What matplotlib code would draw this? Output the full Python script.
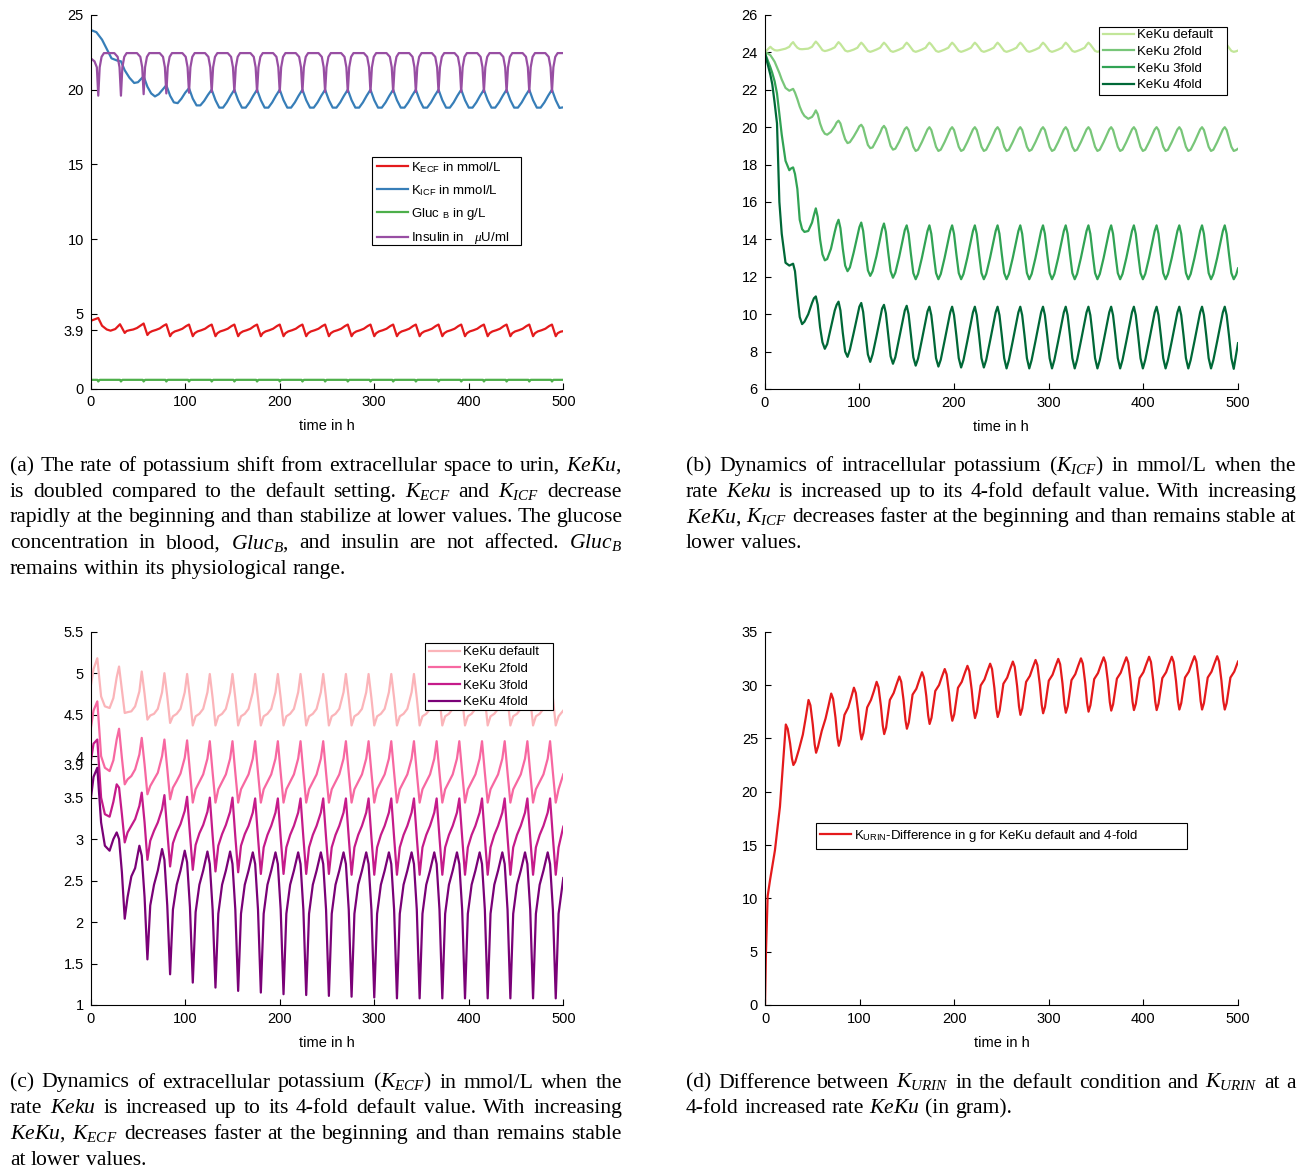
import matplotlib
matplotlib.use("Agg")
import matplotlib.pyplot as plt
from matplotlib.patches import Rectangle

plt.rcParams['font.family'] = 'Liberation Sans'
plt.rcParams['mathtext.fontset'] = 'custom'
plt.rcParams['mathtext.rm'] = 'Liberation Sans'
plt.rcParams['mathtext.it'] = 'Liberation Serif:italic'
plt.rcParams['mathtext.bf'] = 'Liberation Sans:bold'

# ---------------- (a) default KeKu doubled ----------------
t_ins = [0, 4, 6.5,
         8, 9.5, 11.5, 14, 25, 28.5, 30.5,
         32, 33.5, 35.5, 38, 49, 52.5, 54.5,
         56, 57.5, 59.5, 62, 73, 76.5, 78.5,
         80, 81.5, 83.5, 86, 97, 100.5, 102.5,
         104, 105.5, 107.5, 110, 121, 124.5, 126.5,
         128, 129.5, 131.5, 134, 145, 148.5, 150.5,
         152, 153.5, 155.5, 158, 169, 172.5, 174.5,
         176, 177.5, 179.5, 182, 193, 196.5, 198.5,
         200, 201.5, 203.5, 206, 217, 220.5, 222.5,
         224, 225.5, 227.5, 230, 241, 244.5, 246.5,
         248, 249.5, 251.5, 254, 265, 268.5, 270.5,
         272, 273.5, 275.5, 278, 289, 292.5, 294.5,
         296, 297.5, 299.5, 302, 313, 316.5, 318.5,
         320, 321.5, 323.5, 326, 337, 340.5, 342.5,
         344, 345.5, 347.5, 350, 361, 364.5, 366.5,
         368, 369.5, 371.5, 374, 385, 388.5, 390.5,
         392, 393.5, 395.5, 398, 409, 412.5, 414.5,
         416, 417.5, 419.5, 422, 433, 436.5, 438.5,
         440, 441.5, 443.5, 446, 457, 460.5, 462.5,
         464, 465.5, 467.5, 470, 481, 484.5, 486.5,
         488, 489.5, 491.5, 494, 500]
insulin = [22.1, 21.9, 21.5,
           19.6, 21.5, 22.2, 22.45, 22.45, 22.2, 21.5,     # 8
           19.6, 21.5, 22.2, 22.45, 22.45, 22.2, 21.5,     # 32
           19.7, 21.5, 22.2, 22.45, 22.45, 22.2, 21.5,     # 56
           19.75, 21.5, 22.2, 22.45, 22.45, 22.2, 21.5,    # 80
           19.8, 21.5, 22.2, 22.45, 22.45, 22.2, 21.5,     # 104
           19.85, 21.5, 22.2, 22.45, 22.45, 22.2, 21.5,    # 128
           19.85, 21.5, 22.2, 22.45, 22.45, 22.2, 21.5,    # 152
           19.85, 21.5, 22.2, 22.45, 22.45, 22.2, 21.5,    # 176
           19.85, 21.5, 22.2, 22.45, 22.45, 22.2, 21.5,    # 200
           19.85, 21.5, 22.2, 22.45, 22.45, 22.2, 21.5,    # 224
           19.85, 21.5, 22.2, 22.45, 22.45, 22.2, 21.5,    # 248
           19.85, 21.5, 22.2, 22.45, 22.45, 22.2, 21.5,    # 272
           19.85, 21.5, 22.2, 22.45, 22.45, 22.2, 21.5,    # 296
           19.85, 21.5, 22.2, 22.45, 22.45, 22.2, 21.5,    # 320
           19.85, 21.5, 22.2, 22.45, 22.45, 22.2, 21.5,    # 344
           19.85, 21.5, 22.2, 22.45, 22.45, 22.2, 21.5,    # 368
           19.85, 21.5, 22.2, 22.45, 22.45, 22.2, 21.5,    # 392
           19.85, 21.5, 22.2, 22.45, 22.45, 22.2, 21.5,    # 416
           19.85, 21.5, 22.2, 22.45, 22.45, 22.2, 21.5,    # 440
           19.85, 21.5, 22.2, 22.45, 22.45, 22.2, 21.5,    # 464
           19.85, 21.5, 22.2, 22.45, 22.45]                # 488

t_ecf = [0, 0.5, 3, 8, 12, 17, 21, 26, 31,
         36, 38, 41, 45, 49, 53, 56,
         60, 62, 65, 69, 73, 77, 80,
         84, 86, 89, 93, 97, 101, 104,
         108, 110, 113, 117, 121, 125, 128,
         132, 134, 137, 141, 145, 149, 152,
         156, 158, 161, 165, 169, 173, 176,
         180, 182, 185, 189, 193, 197, 200,
         204, 206, 209, 213, 217, 221, 224,
         228, 230, 233, 237, 241, 245, 248,
         252, 254, 257, 261, 265, 269, 272,
         276, 278, 281, 285, 289, 293, 296,
         300, 302, 305, 309, 313, 317, 320,
         324, 326, 329, 333, 337, 341, 344,
         348, 350, 353, 357, 361, 365, 368,
         372, 374, 377, 381, 385, 389, 392,
         396, 398, 401, 405, 409, 413, 416,
         420, 422, 425, 429, 433, 437, 440,
         444, 446, 449, 453, 457, 461, 464,
         468, 470, 473, 477, 481, 485, 488,
         492, 494, 497, 500]
k_ecf = [4.35, 4.55, 4.6, 4.72, 4.2, 3.95, 3.87, 3.98, 4.3,
         3.72, 3.85, 3.9, 3.95, 4.05, 4.22, 4.35,     # 36
         3.58, 3.74, 3.84, 3.92, 4.02, 4.2, 4.3,      # 60
         3.5, 3.7, 3.82, 3.9, 4.0, 4.18, 4.28,        # 84
         3.5, 3.7, 3.82, 3.9, 4.0, 4.18, 4.28,        # 108
         3.5, 3.7, 3.82, 3.9, 4.0, 4.18, 4.28,        # 132
         3.5, 3.7, 3.82, 3.9, 4.0, 4.18, 4.28,        # 156
         3.5, 3.7, 3.82, 3.9, 4.0, 4.18, 4.28,        # 180
         3.5, 3.7, 3.82, 3.9, 4.0, 4.18, 4.28,        # 204
         3.5, 3.7, 3.82, 3.9, 4.0, 4.18, 4.28,        # 228
         3.5, 3.7, 3.82, 3.9, 4.0, 4.18, 4.28,        # 252
         3.5, 3.7, 3.82, 3.9, 4.0, 4.18, 4.28,        # 276
         3.5, 3.7, 3.82, 3.9, 4.0, 4.18, 4.28,        # 300
         3.5, 3.7, 3.82, 3.9, 4.0, 4.18, 4.28,        # 324
         3.5, 3.7, 3.82, 3.9, 4.0, 4.18, 4.28,        # 348
         3.5, 3.7, 3.82, 3.9, 4.0, 4.18, 4.28,        # 372
         3.5, 3.7, 3.82, 3.9, 4.0, 4.18, 4.28,        # 396
         3.5, 3.7, 3.82, 3.9, 4.0, 4.18, 4.28,        # 420
         3.5, 3.7, 3.82, 3.9, 4.0, 4.18, 4.28,        # 444
         3.5, 3.7, 3.82, 3.9, 4.0, 4.18, 4.28,        # 468
         3.5, 3.7, 3.8, 3.84]                         # 492

t_icf = [0, 6, 12, 18, 22, 28, 32, 36, 41, 46, 50,
         56, 60, 64, 68, 72, 76,
         80, 84, 88, 92, 96, 100,
         104, 108, 112, 116, 120, 124,
         128, 132, 136, 140, 144, 148,
         152, 156, 160, 164, 168, 172,
         176, 180, 184, 188, 192, 196,
         200, 204, 208, 212, 216, 220,
         224, 228, 232, 236, 240, 244,
         248, 252, 256, 260, 264, 268,
         272, 276, 280, 284, 288, 292,
         296, 300, 304, 308, 312, 316,
         320, 324, 328, 332, 336, 340,
         344, 348, 352, 356, 360, 364,
         368, 372, 376, 380, 384, 388,
         392, 396, 400, 404, 408, 412,
         416, 420, 424, 428, 432, 436,
         440, 444, 448, 452, 456, 460,
         464, 468, 472, 476, 480, 484,
         488, 492, 496, 500]
k_icf = [24.0, 23.85, 23.35, 22.6, 22.1, 21.95, 21.9, 21.3, 20.8, 20.45, 20.5,
         20.9, 20.2, 19.75, 19.55, 19.7, 20.0,        # 56
         20.3, 19.6, 19.15, 19.1, 19.4, 19.8,         # 80
         20.1, 19.4, 18.95, 18.95, 19.25, 19.65,      # 104
         20.0, 19.3, 18.8, 18.8, 19.15, 19.6,         # 128
         20.0, 19.3, 18.8, 18.8, 19.15, 19.6,         # 152
         20.0, 19.3, 18.8, 18.8, 19.15, 19.6,         # 176
         20.0, 19.3, 18.8, 18.8, 19.15, 19.6,         # 200
         20.0, 19.3, 18.8, 18.8, 19.15, 19.6,         # 224
         20.0, 19.3, 18.8, 18.8, 19.15, 19.6,         # 248
         20.0, 19.3, 18.8, 18.8, 19.15, 19.6,         # 272
         20.0, 19.3, 18.8, 18.8, 19.15, 19.6,         # 296
         20.0, 19.3, 18.8, 18.8, 19.15, 19.6,         # 320
         20.0, 19.3, 18.8, 18.8, 19.15, 19.6,         # 344
         20.0, 19.3, 18.8, 18.8, 19.15, 19.6,         # 368
         20.0, 19.3, 18.8, 18.8, 19.15, 19.6,         # 392
         20.0, 19.3, 18.8, 18.8, 19.15, 19.6,         # 416
         20.0, 19.3, 18.8, 18.8, 19.15, 19.6,         # 440
         20.0, 19.3, 18.8, 18.8, 19.15, 19.6,         # 464
         20.0, 19.3, 18.78, 18.82]                    # 488

t_glc = [0,
         7, 8, 9.5, 31, 32, 33.5, 55, 56, 57.5,
         79, 80, 81.5, 103, 104, 105.5, 127, 128, 129.5,
         151, 152, 153.5, 175, 176, 177.5, 199, 200, 201.5,
         223, 224, 225.5, 247, 248, 249.5, 271, 272, 273.5,
         295, 296, 297.5, 319, 320, 321.5, 343, 344, 345.5,
         367, 368, 369.5, 391, 392, 393.5, 415, 416, 417.5,
         439, 440, 441.5, 463, 464, 465.5, 487, 488, 489.5,
         500]
gluc = [0.58,
        0.58, 0.47, 0.58, 0.58, 0.47, 0.58, 0.58, 0.47, 0.58,
        0.58, 0.47, 0.58, 0.58, 0.47, 0.58, 0.58, 0.47, 0.58,
        0.58, 0.47, 0.58, 0.58, 0.47, 0.58, 0.58, 0.47, 0.58,
        0.58, 0.47, 0.58, 0.58, 0.47, 0.58, 0.58, 0.47, 0.58,
        0.58, 0.47, 0.58, 0.58, 0.47, 0.58, 0.58, 0.47, 0.58,
        0.58, 0.47, 0.58, 0.58, 0.47, 0.58, 0.58, 0.47, 0.58,
        0.58, 0.47, 0.58, 0.58, 0.47, 0.58, 0.58, 0.47, 0.58,
        0.58]

# ---------------- (b) K_ICF for increasing KeKu ----------------
t_b = [0, 3,
       6, 8, 10.5, 13, 15.5, 18, 22, 26, 28,
       30, 32, 34.5, 37, 39.5, 42, 46, 50, 52,
       54, 56, 58.5, 61, 63.5, 66, 70, 74, 76,
       78, 80, 82.5, 85, 87.5, 90, 94, 98, 100,
       102, 104, 106.5, 109, 111.5, 114, 118, 122, 124,
       126, 128, 130.5, 133, 135.5, 138, 142, 146, 148,
       150, 152, 154.5, 157, 159.5, 162, 166, 170, 172,
       174, 176, 178.5, 181, 183.5, 186, 190, 194, 196,
       198, 200, 202.5, 205, 207.5, 210, 214, 218, 220,
       222, 224, 226.5, 229, 231.5, 234, 238, 242, 244,
       246, 248, 250.5, 253, 255.5, 258, 262, 266, 268,
       270, 272, 274.5, 277, 279.5, 282, 286, 290, 292,
       294, 296, 298.5, 301, 303.5, 306, 310, 314, 316,
       318, 320, 322.5, 325, 327.5, 330, 334, 338, 340,
       342, 344, 346.5, 349, 351.5, 354, 358, 362, 364,
       366, 368, 370.5, 373, 375.5, 378, 382, 386, 388,
       390, 392, 394.5, 397, 399.5, 402, 406, 410, 412,
       414, 416, 418.5, 421, 423.5, 426, 430, 434, 436,
       438, 440, 442.5, 445, 447.5, 450, 454, 458, 460,
       462, 464, 466.5, 469, 471.5, 474, 478, 482, 484,
       486, 488, 490.5, 493, 495.5, 498, 500]
icf_default = [24.0, 24.15,
               24.3, 24.2, 24.12, 24.1, 24.12, 24.15, 24.2, 24.3, 24.45,        # 6
               24.55, 24.4, 24.25, 24.18, 24.17, 24.18, 24.2, 24.3, 24.45,      # 30
               24.58, 24.47, 24.3, 24.12, 24.07, 24.1, 24.17, 24.27, 24.42,     # 54
               24.55, 24.45, 24.27, 24.1, 24.05, 24.08, 24.15, 24.25, 24.4,     # 78
               24.52, 24.42, 24.25, 24.08, 24.03, 24.07, 24.15, 24.25, 24.4,    # 102
               24.52, 24.42, 24.25, 24.08, 24.03, 24.07, 24.15, 24.25, 24.4,    # 126
               24.52, 24.42, 24.25, 24.08, 24.03, 24.07, 24.15, 24.25, 24.4,    # 150
               24.52, 24.42, 24.25, 24.08, 24.03, 24.07, 24.15, 24.25, 24.4,    # 174
               24.52, 24.42, 24.25, 24.08, 24.03, 24.07, 24.15, 24.25, 24.4,    # 198
               24.52, 24.42, 24.25, 24.08, 24.03, 24.07, 24.15, 24.25, 24.4,    # 222
               24.52, 24.42, 24.25, 24.08, 24.03, 24.07, 24.15, 24.25, 24.4,    # 246
               24.52, 24.42, 24.25, 24.08, 24.03, 24.07, 24.15, 24.25, 24.4,    # 270
               24.52, 24.42, 24.25, 24.08, 24.03, 24.07, 24.15, 24.25, 24.4,    # 294
               24.52, 24.42, 24.25, 24.08, 24.03, 24.07, 24.15, 24.25, 24.4,    # 318
               24.52, 24.42, 24.25, 24.08, 24.03, 24.07, 24.15, 24.25, 24.4,    # 342
               24.52, 24.42, 24.25, 24.08, 24.03, 24.07, 24.15, 24.25, 24.4,    # 366
               24.52, 24.42, 24.25, 24.08, 24.03, 24.07, 24.15, 24.25, 24.4,    # 390
               24.52, 24.42, 24.25, 24.08, 24.03, 24.07, 24.15, 24.25, 24.4,    # 414
               24.52, 24.42, 24.25, 24.08, 24.03, 24.07, 24.15, 24.25, 24.4,    # 438
               24.52, 24.42, 24.25, 24.08, 24.03, 24.07, 24.15, 24.25, 24.4,    # 462
               24.5, 24.42, 24.25, 24.08, 24.03, 24.06, 24.1]                   # 486
icf_2fold = [24.0, 23.95,
             23.85, 23.7, 23.5, 23.2, 22.9, 22.55, 22.1, 21.95, 22.0,           # 6
             22.05, 21.85, 21.5, 21.1, 20.8, 20.6, 20.45, 20.55, 20.7,          # 30
             20.9, 20.7, 20.2, 19.85, 19.65, 19.6, 19.75, 20.05, 20.25,         # 54
             20.35, 20.2, 19.75, 19.35, 19.15, 19.2, 19.5, 19.85, 20.05,        # 78
             20.13, 19.98, 19.5, 19.05, 18.88, 18.92, 19.3, 19.7, 19.95,        # 102
             20.07, 19.92, 19.45, 19.0, 18.8, 18.85, 19.22, 19.67, 19.9,        # 126
             20.0, 19.85, 19.4, 18.95, 18.73, 18.8, 19.2, 19.65, 19.88,         # 150
             20.0, 19.85, 19.4, 18.95, 18.73, 18.8, 19.2, 19.65, 19.88,         # 174
             20.0, 19.85, 19.4, 18.95, 18.73, 18.8, 19.2, 19.65, 19.88,         # 198
             20.0, 19.85, 19.4, 18.95, 18.73, 18.8, 19.2, 19.65, 19.88,         # 222
             20.0, 19.85, 19.4, 18.95, 18.73, 18.8, 19.2, 19.65, 19.88,         # 246
             20.0, 19.85, 19.4, 18.95, 18.73, 18.8, 19.2, 19.65, 19.88,         # 270
             20.0, 19.85, 19.4, 18.95, 18.73, 18.8, 19.2, 19.65, 19.88,         # 294
             20.0, 19.85, 19.4, 18.95, 18.73, 18.8, 19.2, 19.65, 19.88,         # 318
             20.0, 19.85, 19.4, 18.95, 18.73, 18.8, 19.2, 19.65, 19.88,         # 342
             20.0, 19.85, 19.4, 18.95, 18.73, 18.8, 19.2, 19.65, 19.88,         # 366
             20.0, 19.85, 19.4, 18.95, 18.73, 18.8, 19.2, 19.65, 19.88,         # 390
             20.0, 19.85, 19.4, 18.95, 18.73, 18.8, 19.2, 19.65, 19.88,         # 414
             20.0, 19.85, 19.4, 18.95, 18.73, 18.8, 19.2, 19.65, 19.88,         # 438
             20.0, 19.85, 19.4, 18.95, 18.73, 18.8, 19.2, 19.65, 19.88,         # 462
             20.0, 19.85, 19.4, 18.95, 18.73, 18.78, 18.85]                     # 486
icf_3fold = [24.0, 23.6,
             23.2, 22.9, 22.45, 21.8, 20.7, 19.6, 18.2, 17.7, 17.8,             # 6
             17.85, 17.5, 16.7, 15.05, 14.55, 14.4, 14.45, 14.9, 15.3,          # 30
             15.66, 15.2, 14.0, 13.2, 12.88, 12.95, 13.5, 14.4, 14.8,           # 54
             15.05, 14.6, 13.5, 12.6, 12.3, 12.5, 13.3, 14.2, 14.65,            # 78
             14.9, 14.45, 13.35, 12.35, 12.05, 12.3, 13.1, 14.05, 14.55,        # 102
             14.85, 14.4, 13.3, 12.3, 11.95, 12.22, 13.05, 14.0, 14.5,          # 126
             14.75, 14.3, 13.2, 12.2, 11.87, 12.15, 13.0, 13.95, 14.45,         # 150
             14.75, 14.3, 13.2, 12.2, 11.87, 12.15, 13.0, 13.95, 14.45,         # 174
             14.75, 14.3, 13.2, 12.2, 11.87, 12.15, 13.0, 13.95, 14.45,         # 198
             14.75, 14.3, 13.2, 12.2, 11.87, 12.15, 13.0, 13.95, 14.45,         # 222
             14.75, 14.3, 13.2, 12.2, 11.87, 12.15, 13.0, 13.95, 14.45,         # 246
             14.75, 14.3, 13.2, 12.2, 11.87, 12.15, 13.0, 13.95, 14.45,         # 270
             14.75, 14.3, 13.2, 12.2, 11.87, 12.15, 13.0, 13.95, 14.45,         # 294
             14.75, 14.3, 13.2, 12.2, 11.87, 12.15, 13.0, 13.95, 14.45,         # 318
             14.75, 14.3, 13.2, 12.2, 11.87, 12.15, 13.0, 13.95, 14.45,         # 342
             14.75, 14.3, 13.2, 12.2, 11.87, 12.15, 13.0, 13.95, 14.45,         # 366
             14.75, 14.3, 13.2, 12.2, 11.87, 12.15, 13.0, 13.95, 14.45,         # 390
             14.75, 14.3, 13.2, 12.2, 11.87, 12.15, 13.0, 13.95, 14.45,         # 414
             14.75, 14.3, 13.2, 12.2, 11.87, 12.15, 13.0, 13.95, 14.45,         # 438
             14.75, 14.3, 13.2, 12.2, 11.87, 12.15, 13.0, 13.95, 14.45,         # 462
             14.75, 14.3, 13.2, 12.2, 11.87, 12.1, 12.45]                       # 486
icf_4fold = [24.0, 23.4,
             22.8, 22.3, 21.3, 20.2, 16.0, 14.3, 12.75, 12.6, 12.65,            # 6
             12.7, 12.3, 11.0, 9.85, 9.47, 9.6, 10.0, 10.6, 10.85,              # 30
             10.95, 10.5, 9.3, 8.5, 8.15, 8.4, 9.3, 10.2, 10.5,                 # 54
             10.67, 10.2, 9.0, 8.0, 7.72, 8.1, 9.0, 9.95, 10.4,                 # 78
             10.6, 10.12, 8.95, 7.85, 7.45, 7.85, 8.8, 9.8, 10.3,               # 102
             10.5, 10.05, 8.9, 7.75, 7.35, 7.7, 8.7, 9.7, 10.2,                 # 126
             10.45, 10.0, 8.88, 7.7, 7.25, 7.62, 8.62, 9.65, 10.15,             # 150
             10.4, 9.95, 8.85, 7.65, 7.2, 7.57, 8.57, 9.6, 10.1,                # 174
             10.4, 9.95, 8.85, 7.65, 7.15, 7.55, 8.55, 9.6, 10.1,               # 198
             10.4, 9.95, 8.85, 7.65, 7.15, 7.55, 8.55, 9.6, 10.1,               # 222
             10.4, 9.95, 8.85, 7.65, 7.1, 7.55, 8.55, 9.6, 10.1,                # 246
             10.4, 9.95, 8.85, 7.65, 7.1, 7.55, 8.55, 9.6, 10.1,                # 270
             10.4, 9.95, 8.85, 7.65, 7.1, 7.55, 8.55, 9.6, 10.1,                # 294
             10.4, 9.95, 8.85, 7.65, 7.1, 7.55, 8.55, 9.6, 10.1,                # 318
             10.4, 9.95, 8.85, 7.65, 7.1, 7.55, 8.55, 9.6, 10.1,                # 342
             10.4, 9.95, 8.85, 7.65, 7.1, 7.55, 8.55, 9.6, 10.1,                # 366
             10.4, 9.95, 8.85, 7.65, 7.1, 7.55, 8.55, 9.6, 10.1,                # 390
             10.4, 9.95, 8.85, 7.65, 7.1, 7.55, 8.55, 9.6, 10.1,                # 414
             10.4, 9.95, 8.85, 7.65, 7.1, 7.55, 8.55, 9.6, 10.1,                # 438
             10.4, 9.95, 8.85, 7.65, 7.1, 7.55, 8.55, 9.6, 10.1,                # 462
             10.4, 9.95, 8.85, 7.65, 7.08, 7.85, 8.45]                          # 486

# ---------------- (c) K_ECF for increasing KeKu ----------------
t_c = [0, 0.3, 3, 7, 11, 15, 20, 24, 27.5, 30, 33,
       36, 39, 43, 47, 51.5, 54, 57,
       60, 63, 67, 71, 75.5, 78, 81,
       84, 87, 91, 95, 99.5, 102, 105,
       108, 111, 115, 119, 123.5, 126, 129,
       132, 135, 139, 143, 147.5, 150, 153,
       156, 159, 163, 167, 171.5, 174, 177,
       180, 183, 187, 191, 195.5, 198, 201,
       204, 207, 211, 215, 219.5, 222, 225,
       228, 231, 235, 239, 243.5, 246, 249,
       252, 255, 259, 263, 267.5, 270, 273,
       276, 279, 283, 287, 291.5, 294, 297,
       300, 303, 307, 311, 315.5, 318, 321,
       324, 327, 331, 335, 339.5, 342, 345,
       348, 351, 355, 359, 363.5, 366, 369,
       372, 375, 379, 383, 387.5, 390, 393,
       396, 399, 403, 407, 411.5, 414, 417,
       420, 423, 427, 431, 435.5, 438, 441,
       444, 447, 451, 455, 459.5, 462, 465,
       468, 471, 475, 479, 483.5, 486, 489,
       492, 495, 500]
ecf_default = [4.84, 4.86, 5.05, 5.18, 4.72, 4.6, 4.58, 4.7, 4.95, 5.08, 4.8,
               4.52, 4.53, 4.54, 4.6, 4.78, 5.02, 4.75,       # 36
               4.44, 4.49, 4.51, 4.57, 4.77, 5.0, 4.72,       # 60
               4.4, 4.48, 4.51, 4.57, 4.77, 4.99, 4.7,        # 84
               4.37, 4.48, 4.51, 4.57, 4.77, 4.99, 4.7,       # 108
               4.37, 4.48, 4.51, 4.57, 4.77, 4.99, 4.7,       # 132
               4.37, 4.48, 4.51, 4.57, 4.77, 4.99, 4.7,       # 156
               4.37, 4.48, 4.51, 4.57, 4.77, 4.99, 4.7,       # 180
               4.37, 4.48, 4.51, 4.57, 4.77, 4.99, 4.7,       # 204
               4.37, 4.48, 4.51, 4.57, 4.77, 4.99, 4.7,       # 228
               4.37, 4.48, 4.51, 4.57, 4.77, 4.99, 4.7,       # 252
               4.37, 4.48, 4.51, 4.57, 4.77, 4.99, 4.7,       # 276
               4.37, 4.48, 4.51, 4.57, 4.77, 4.99, 4.7,       # 300
               4.37, 4.48, 4.51, 4.57, 4.77, 4.99, 4.7,       # 324
               4.37, 4.48, 4.51, 4.57, 4.77, 4.99, 4.7,       # 348
               4.37, 4.48, 4.51, 4.57, 4.77, 4.99, 4.7,       # 372
               4.37, 4.48, 4.51, 4.57, 4.77, 4.99, 4.7,       # 396
               4.37, 4.48, 4.51, 4.57, 4.77, 4.99, 4.7,       # 420
               4.37, 4.48, 4.51, 4.57, 4.77, 4.99, 4.7,       # 444
               4.37, 4.48, 4.51, 4.57, 4.77, 4.99, 4.7,       # 468
               4.37, 4.48, 4.55]                              # 492
ecf_2fold = [4.3, 4.35, 4.55, 4.66, 4.0, 3.86, 3.82, 3.95, 4.2, 4.33, 3.98,
             3.66, 3.72, 3.76, 3.84, 4.02, 4.22, 3.9,         # 36
             3.54, 3.64, 3.72, 3.8, 4.0, 4.2, 3.85,           # 60
             3.48, 3.62, 3.7, 3.79, 3.98, 4.19, 3.82,         # 84
             3.44, 3.6, 3.69, 3.78, 3.97, 4.18, 3.8,          # 108
             3.44, 3.6, 3.69, 3.78, 3.97, 4.18, 3.8,          # 132
             3.44, 3.6, 3.69, 3.78, 3.97, 4.18, 3.8,          # 156
             3.44, 3.6, 3.69, 3.78, 3.97, 4.18, 3.8,          # 180
             3.44, 3.6, 3.69, 3.78, 3.97, 4.18, 3.8,          # 204
             3.44, 3.6, 3.69, 3.78, 3.97, 4.18, 3.8,          # 228
             3.44, 3.6, 3.69, 3.78, 3.97, 4.18, 3.8,          # 252
             3.44, 3.6, 3.69, 3.78, 3.97, 4.18, 3.8,          # 276
             3.44, 3.6, 3.69, 3.78, 3.97, 4.18, 3.8,          # 300
             3.44, 3.6, 3.69, 3.78, 3.97, 4.18, 3.8,          # 324
             3.44, 3.6, 3.69, 3.78, 3.97, 4.18, 3.8,          # 348
             3.44, 3.6, 3.69, 3.78, 3.97, 4.18, 3.8,          # 372
             3.44, 3.6, 3.69, 3.78, 3.97, 4.18, 3.8,          # 396
             3.44, 3.6, 3.69, 3.78, 3.97, 4.18, 3.8,          # 420
             3.44, 3.6, 3.69, 3.78, 3.97, 4.18, 3.8,          # 444
             3.44, 3.6, 3.69, 3.78, 3.97, 4.18, 3.8,          # 468
             3.44, 3.6, 3.78]                                 # 492
ecf_3fold = [3.9, 3.95, 4.15, 4.2, 3.5, 3.3, 3.27, 3.45, 3.66, 3.62, 3.3,
             2.96, 3.08, 3.16, 3.24, 3.4, 3.56, 3.2,          # 36
             2.75, 2.98, 3.1, 3.2, 3.36, 3.53, 3.1,           # 60
             2.67, 2.95, 3.08, 3.18, 3.34, 3.51, 3.06,        # 84
             2.63, 2.93, 3.07, 3.17, 3.33, 3.5, 3.04,         # 108
             2.61, 2.92, 3.06, 3.17, 3.33, 3.5, 3.03,         # 132
             2.6, 2.92, 3.06, 3.16, 3.32, 3.49, 3.02,         # 156
             2.58, 2.9, 3.05, 3.16, 3.32, 3.49, 3.02,         # 180
             2.58, 2.9, 3.05, 3.16, 3.32, 3.49, 3.02,         # 204
             2.58, 2.9, 3.05, 3.16, 3.32, 3.49, 3.02,         # 228
             2.58, 2.9, 3.05, 3.16, 3.32, 3.49, 3.02,         # 252
             2.57, 2.9, 3.05, 3.16, 3.32, 3.49, 3.02,         # 276
             2.57, 2.9, 3.05, 3.16, 3.32, 3.49, 3.02,         # 300
             2.57, 2.9, 3.05, 3.16, 3.32, 3.49, 3.02,         # 324
             2.57, 2.9, 3.05, 3.16, 3.32, 3.49, 3.02,         # 348
             2.57, 2.9, 3.05, 3.16, 3.32, 3.49, 3.02,         # 372
             2.57, 2.9, 3.05, 3.16, 3.32, 3.49, 3.02,         # 396
             2.57, 2.9, 3.05, 3.16, 3.32, 3.49, 3.02,         # 420
             2.57, 2.9, 3.05, 3.16, 3.32, 3.49, 3.02,         # 444
             2.57, 2.9, 3.05, 3.16, 3.32, 3.49, 3.02,         # 468
             2.57, 2.9, 3.15]                                 # 492
ecf_4fold = [4.78, 3.5, 3.75, 3.86, 3.2, 2.92, 2.86, 3.0, 3.08, 3.0, 2.6,
             2.04, 2.3, 2.55, 2.65, 2.92, 2.8, 2.3,           # 36
             1.55, 2.2, 2.45, 2.62, 2.88, 2.75, 2.2,          # 60
             1.37, 2.15, 2.45, 2.62, 2.86, 2.72, 2.18,        # 84
             1.27, 2.12, 2.45, 2.62, 2.85, 2.7, 2.15,         # 108
             1.21, 2.1, 2.45, 2.62, 2.85, 2.7, 2.15,          # 132
             1.17, 2.1, 2.45, 2.62, 2.84, 2.7, 2.15,          # 156
             1.15, 2.1, 2.45, 2.62, 2.84, 2.7, 2.15,          # 180
             1.13, 2.1, 2.45, 2.62, 2.84, 2.7, 2.15,          # 204
             1.12, 2.1, 2.45, 2.62, 2.84, 2.7, 2.15,          # 228
             1.11, 2.1, 2.45, 2.62, 2.84, 2.7, 2.15,          # 252
             1.1, 2.1, 2.45, 2.62, 2.84, 2.7, 2.15,           # 276
             1.09, 2.1, 2.45, 2.62, 2.84, 2.7, 2.15,          # 300
             1.08, 2.1, 2.45, 2.62, 2.84, 2.7, 2.15,          # 324
             1.08, 2.1, 2.45, 2.62, 2.84, 2.7, 2.15,          # 348
             1.08, 2.1, 2.45, 2.62, 2.84, 2.7, 2.15,          # 372
             1.08, 2.1, 2.45, 2.62, 2.84, 2.7, 2.15,          # 396
             1.08, 2.1, 2.45, 2.62, 2.84, 2.7, 2.15,          # 420
             1.08, 2.1, 2.45, 2.62, 2.84, 2.7, 2.15,          # 444
             1.08, 2.1, 2.45, 2.62, 2.84, 2.7, 2.15,          # 468
             1.08, 2.1, 2.53]                                 # 492

# ---------------- (d) K_URIN difference ----------------
t_d = [0, 1, 2.8, 5.3, 10.5, 15.8, 19.3,
       22, 24, 26.5, 28.5, 30, 32, 36, 40, 43,
       46, 48, 50.5, 52.5, 54, 56, 60, 64, 67,
       70, 72, 74.5, 76.5, 78, 80, 84, 88, 91,
       94, 96, 98.5, 100.5, 102, 104, 108, 112, 115,
       118, 120, 122.5, 124.5, 126, 128, 132, 136, 139,
       142, 144, 146.5, 148.5, 150, 152, 156, 160, 163,
       166, 168, 170.5, 172.5, 174, 176, 180, 184, 187,
       190, 192, 194.5, 196.5, 198, 200, 204, 208, 211,
       214, 216, 218.5, 220.5, 222, 224, 228, 232, 235,
       238, 240, 242.5, 244.5, 246, 248, 252, 256, 259,
       262, 264, 266.5, 268.5, 270, 272, 276, 280, 283,
       286, 288, 290.5, 292.5, 294, 296, 300, 304, 307,
       310, 312, 314.5, 316.5, 318, 320, 324, 328, 331,
       334, 336, 338.5, 340.5, 342, 344, 348, 352, 355,
       358, 360, 362.5, 364.5, 366, 368, 372, 376, 379,
       382, 384, 386.5, 388.5, 390, 392, 396, 400, 403,
       406, 408, 410.5, 412.5, 414, 416, 420, 424, 427,
       430, 432, 434.5, 436.5, 438, 440, 444, 448, 451,
       454, 456, 458.5, 460.5, 462, 464, 468, 472, 475,
       478, 480, 482.5, 484.5, 486, 488, 492, 496, 500]
urin_diff = [0, 4.9, 10.2, 11.7, 14.5, 18.6, 23.0,
             26.3, 25.9, 24.55, 23.1, 22.5, 22.8, 24.0, 25.35, 26.9,
             28.6, 28.1, 26.3, 24.45, 23.65, 24.2, 25.7, 26.85, 28.0,
             29.2, 28.7, 26.95, 25.1, 24.3, 24.9, 27.2, 27.9, 28.8,
             29.75, 29.25, 27.5, 25.7, 24.9, 25.5, 27.9, 28.6, 29.4,
             30.3, 29.8, 28.05, 26.2, 25.4, 26.0, 28.6, 29.25, 30.05,
             30.8, 30.3, 28.55, 26.7, 25.9, 26.5, 29.1, 29.65, 30.45,
             31.2, 30.7, 28.97, 27.13, 26.35, 26.93, 29.44, 30.0, 30.78,
             31.5, 31.0, 29.27, 27.43, 26.65, 27.23, 29.74, 30.3, 31.08,
             31.8, 31.3, 29.55, 27.7, 26.9, 27.5, 29.96, 30.52, 31.29,
             32.0, 31.5, 29.7, 27.8, 27.0, 27.6, 30.12, 30.69, 31.47,
             32.2, 31.7, 29.9, 28.0, 27.2, 27.8, 30.29, 30.86, 31.63,
             32.35, 31.85, 30.05, 28.15, 27.35, 27.95, 30.41, 30.97, 31.74,
             32.45, 31.95, 30.13, 28.21, 27.4, 28.0, 30.46, 31.02, 31.79,
             32.5, 32.0, 30.2, 28.3, 27.5, 28.1, 30.56, 31.12, 31.89,
             32.6, 32.1, 30.3, 28.4, 27.6, 28.2, 30.6, 31.15, 31.9,
             32.6, 32.1, 30.32, 28.44, 27.65, 28.24, 30.65, 31.2, 31.95,
             32.65, 32.15, 30.35, 28.45, 27.65, 28.25, 30.65, 31.2, 31.95,
             32.65, 32.15, 30.37, 28.49, 27.7, 28.3, 30.7, 31.25, 32.0,
             32.7, 32.2, 30.4, 28.5, 27.7, 28.3, 30.7, 31.25, 32.0,
             32.7, 32.2, 30.4, 28.5, 27.7, 28.3, 30.7, 31.25, 32.2]

keku_labels = ['KeKu default', 'KeKu 2fold', 'KeKu 3fold', 'KeKu 4fold']
greens = ['#c2e699', '#78c679', '#31a354', '#006837']
pinks = ['#fbb4b9', '#f768a1', '#c51b8a', '#7a0177']

cap_a = [
    "(a)  The rate of potassium shift from extracellular space to urin, $KeKu$,",
    "is doubled compared to the default setting.  $K_{ECF}$ and $K_{ICF}$ decrease",
    "rapidly at the beginning and than stabilize at lower values. The glucose",
    "concentration in blood, $Gluc_B$, and insulin are not affected.  $Gluc_B$",
    "remains within its physiological range.",
]
cap_b = [
    "(b)  Dynamics of intracellular potassium ($K_{ICF}$) in mmol/L when the",
    "rate $Keku$ is increased up to its 4-fold default value.  With increasing",
    "$KeKu$, $K_{ICF}$ decreases faster at the beginning and than remains stable at",
    "lower values.",
]
cap_c = [
    "(c)  Dynamics of extracellular potassium ($K_{ECF}$) in mmol/L when the",
    "rate $Keku$ is increased up to its 4-fold default value.  With increasing",
    "$KeKu$, $K_{ECF}$ decreases faster at the beginning and than remains stable",
    "at lower values.",
]
cap_d = [
    "(d)  Difference between $K_{URIN}$ in the default condition and $K_{URIN}$ at a",
    "4-fold increased rate $KeKu$ (in gram).",
]

# every time axis has to line up with its series
pairs = {'insulin': (t_ins, insulin), 'k_ecf': (t_ecf, k_ecf), 'k_icf': (t_icf, k_icf),
         'gluc': (t_glc, gluc), 'icf_default': (t_b, icf_default), 'icf_2fold': (t_b, icf_2fold),
         'icf_3fold': (t_b, icf_3fold), 'icf_4fold': (t_b, icf_4fold),
         'ecf_default': (t_c, ecf_default), 'ecf_2fold': (t_c, ecf_2fold),
         'ecf_3fold': (t_c, ecf_3fold), 'ecf_4fold': (t_c, ecf_4fold),
         'urin_diff': (t_d, urin_diff)}
bad = [f'{k}: {len(t)} vs {len(v)}' for k, (t, v) in pairs.items() if len(t) != len(v)]
if bad:
    raise SystemExit('length mismatch -> ' + '; '.join(bad))

FIG_W, FIG_H = 1314, 1167
fig = plt.figure(figsize=(FIG_W / 100, FIG_H / 100), dpi=100)
LW = 1.6
TICK_FS = 10.5
LEG_FS = 9.5


def px_axes(x0, y0, x1, y1):
    return fig.add_axes([x0 / FIG_W, 1 - y1 / FIG_H, (x1 - x0) / FIG_W, (y1 - y0) / FIG_H])


def style_axes(ax, ylim, yticks, ylabels=None):
    ax.set_xlim(0, 500)
    ax.set_ylim(*ylim)
    ax.set_xticks([0, 100, 200, 300, 400, 500])
    ax.set_yticks(yticks)
    if ylabels is not None:
        ax.set_yticklabels(ylabels)
    for s in ('top', 'right'):
        ax.spines[s].set_visible(False)
    for s in ('left', 'bottom'):
        ax.spines[s].set_linewidth(0.8)
    ax.tick_params(direction='in', length=4, width=0.8, labelsize=TICK_FS, pad=5)
    ax.set_xlabel('time in h', fontsize=TICK_FS, labelpad=7)


def boxed_legend(ax, box, anchor, spacing):
    # white box drawn by hand so its size can be set freely
    x0, y0, x1, y1 = box
    rect = Rectangle((x0 / FIG_W, 1 - y1 / FIG_H), (x1 - x0) / FIG_W, (y1 - y0) / FIG_H,
                     transform=fig.transFigure, facecolor='white', edgecolor='black',
                     linewidth=0.8, zorder=4)
    ax.add_artist(rect)
    leg = ax.legend(loc='upper left', bbox_to_anchor=(anchor[0] / FIG_W, 1 - anchor[1] / FIG_H),
                    bbox_transform=fig.transFigure, frameon=False, fontsize=LEG_FS,
                    handlelength=2.35, handletextpad=0.2, labelspacing=spacing,
                    borderpad=0, borderaxespad=0)
    leg.set_zorder(5)
    return leg


def caption(lines, x0, x1, base0, pitch=25.7, size=15.6):
    r = fig.canvas.get_renderer()
    space = size * 100 / 72 * 0.25
    for i, line in enumerate(lines):
        words = line.split()
        y = 1 - (base0 + i * pitch) / FIG_H
        arts = [fig.text(0, y, w, fontsize=size, family='Liberation Serif',
                         va='baseline', ha='left') for w in words]
        widths = [a.get_window_extent(r).width for a in arts]
        gap = space
        if i < len(lines) - 1 and len(words) > 1:
            gap = max((x1 - x0 - sum(widths)) / (len(words) - 1), 0.5 * space)
        x = x0
        for a, w in zip(arts, widths):
            a.set_x(x / FIG_W)
            x += w + gap


# (a)
ax = px_axes(90.7, 15, 563.3, 388.5)
ax.plot(t_ecf, k_ecf, color='#e41a1c', lw=LW, label='K$_{\\mathrm{ECF}}$ in mmol/L')
ax.plot(t_icf, k_icf, color='#377eb8', lw=LW, label='K$_{\\mathrm{ICF}}$ in mmol/L')
ax.plot(t_glc, gluc, color='#4daf4a', lw=LW, label='Gluc $_{\\mathrm{B}}$ in g/L')
ax.plot(t_ins, insulin, color='#984ea3', lw=LW, label='Insulin in   $\\mu$U/ml')
style_axes(ax, (0, 25), [0, 3.9, 5, 10, 15, 20, 25], ['0', '3.9', '5', '10', '15', '20', '25'])
boxed_legend(ax, (372, 157, 521, 245), (377, 160), 0.62)

# (b)
ax = px_axes(764.7, 15, 1238, 389)
for vals, col, lab in zip([icf_default, icf_2fold, icf_3fold, icf_4fold], greens, keku_labels):
    ax.plot(t_b, vals, color=col, lw=LW, label=lab)
style_axes(ax, (6, 26), list(range(6, 27, 2)))
boxed_legend(ax, (1099, 27, 1227, 95), (1103, 29), 0.34)

# (c)
ax = px_axes(90.7, 631.7, 563.3, 1005)
for vals, col, lab in zip([ecf_default, ecf_2fold, ecf_3fold, ecf_4fold], pinks, keku_labels):
    ax.plot(t_c, vals, color=col, lw=LW, label=lab)
style_axes(ax, (1, 5.5), [1, 1.5, 2, 2.5, 3, 3.5, 3.9, 4, 4.5, 5, 5.5],
           ['1', '1.5', '2', '2.5', '3', '3.5', '3.9', '4', '4.5', '5', '5.5'])
boxed_legend(ax, (425, 643, 553, 710), (429, 646), 0.34)

# (d)
ax = px_axes(765, 631.7, 1238, 1005)
ax.plot(t_d, urin_diff, color='#e41a1c', lw=LW,
        label='K$_{\\mathrm{URIN}}$-Difference in g for KeKu default and 4-fold')
style_axes(ax, (0, 35), [0, 5, 10, 15, 20, 25, 30, 35])
boxed_legend(ax, (816, 823, 1187, 849), (820, 828), 0.1)

caption(cap_a, 10, 622, 471)
caption(cap_b, 686, 1296, 471)
caption(cap_c, 10, 622, 1087.5)
caption(cap_d, 686, 1296, 1087.5)

fig.savefig('out.png', dpi=100)
